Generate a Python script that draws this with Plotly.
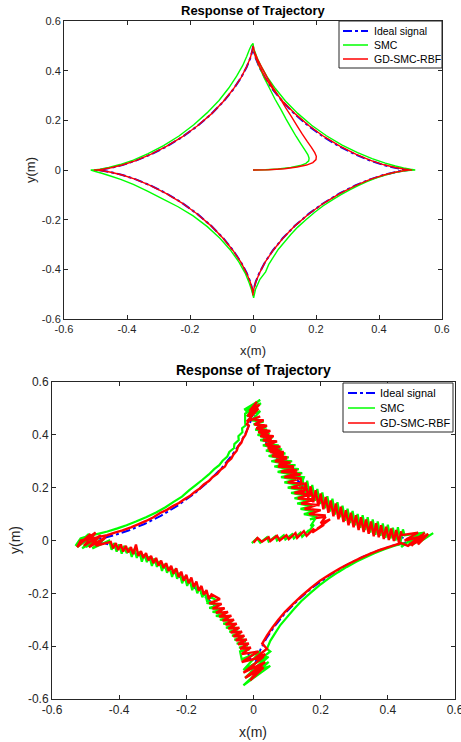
import plotly.graph_objects as go

# ---------------- data ----------------
# Ideal astroid trajectory (counter-clockwise from the top cusp)
IDEAL_X = [0, -0.0003, -0.0026, -0.0087, -0.02, -0.0377, -0.0625, -0.0944, -0.1328, -0.1768,
           -0.2248, -0.2748, -0.3248, -0.3722, -0.4149, -0.4506, -0.4776, -0.4943, -0.5,
           -0.4943, -0.4776, -0.4506, -0.4149, -0.3722, -0.3248, -0.2748, -0.2248, -0.1768,
           -0.1328, -0.0944, -0.0625, -0.0377, -0.02, -0.0087, -0.0026, -0.0003, 0,
           0.0003, 0.0026, 0.0087, 0.02, 0.0377, 0.0625, 0.0944, 0.1328, 0.1768,
           0.2248, 0.2748, 0.3248, 0.3722, 0.4149, 0.4506, 0.4776, 0.4943, 0.5,
           0.4943, 0.4776, 0.4506, 0.4149, 0.3722, 0.3248, 0.2748, 0.2248, 0.1768,
           0.1328, 0.0944, 0.0625, 0.0377, 0.02, 0.0087, 0.0026, 0.0003, 0]
IDEAL_Y = [0.5, 0.4943, 0.4776, 0.4506, 0.4149, 0.3722, 0.3248, 0.2748, 0.2248, 0.1768,
           0.1328, 0.0944, 0.0625, 0.0377, 0.02, 0.0087, 0.0026, 0.0003, 0,
           -0.0003, -0.0026, -0.0087, -0.02, -0.0377, -0.0625, -0.0944, -0.1328, -0.1768,
           -0.2248, -0.2748, -0.3248, -0.3722, -0.4149, -0.4506, -0.4776, -0.4943, -0.5,
           -0.4943, -0.4776, -0.4506, -0.4149, -0.3722, -0.3248, -0.2748, -0.2248, -0.1768,
           -0.1328, -0.0944, -0.0625, -0.0377, -0.02, -0.0087, -0.0026, -0.0003, 0,
           0.0003, 0.0026, 0.0087, 0.02, 0.0377, 0.0625, 0.0944, 0.1328, 0.1768,
           0.2248, 0.2748, 0.3248, 0.3722, 0.4149, 0.4506, 0.4776, 0.4943, 0.5]

# Upper chart: SMC response
TOP_SMC_X = [0, 0.04, 0.08, 0.12, 0.15, 0.168, 0.177, 0.178, 0.174, 0.165, 0.152, 0.137, 0.121,
             0.105, 0.088, 0.07, 0.052, 0.036, 0.022, 0.011, 0.004, 0,
             -0.006, -0.012, -0.02, -0.033, -0.052, -0.077, -0.108, -0.146, -0.188, -0.235,
             -0.284, -0.333, -0.38, -0.422, -0.458, -0.485, -0.505, -0.515,
             -0.5, -0.48, -0.455, -0.42, -0.38, -0.335, -0.287, -0.238, -0.19, -0.145, -0.105,
             -0.072, -0.045, -0.025, -0.012, -0.004, 0.002,
             0.008, 0.022, 0.04, 0.05, 0.065, 0.08, 0.1, 0.12, 0.142, 0.168, 0.196, 0.222, 0.252,
             0.278, 0.307, 0.334, 0.36, 0.39, 0.42, 0.45, 0.478, 0.5, 0.515,
             0.5, 0.478, 0.452, 0.42, 0.378, 0.332, 0.283, 0.233, 0.186, 0.142, 0.103, 0.071,
             0.045, 0.026, 0.013, 0.005]
TOP_SMC_Y = [0, 0.001, 0.004, 0.01, 0.018, 0.027, 0.037, 0.048, 0.062, 0.08, 0.105, 0.135, 0.17,
             0.205, 0.245, 0.285, 0.33, 0.37, 0.41, 0.445, 0.475, 0.51,
             0.5, 0.483, 0.457, 0.42, 0.378, 0.33, 0.28, 0.23, 0.182, 0.137,
             0.098, 0.066, 0.04, 0.022, 0.01, 0.003, 0.0005, 0,
             -0.006, -0.013, -0.023, -0.038, -0.058, -0.085, -0.116, -0.148, -0.185, -0.228, -0.275,
             -0.322, -0.37, -0.415, -0.455, -0.485, -0.515,
             -0.48, -0.44, -0.41, -0.38, -0.35, -0.32, -0.29, -0.26, -0.23, -0.2, -0.17, -0.145, -0.12,
             -0.1, -0.08, -0.063, -0.048, -0.033, -0.02, -0.01, -0.004, -0.001, 0,
             0.003, 0.008, 0.016, 0.028, 0.046, 0.07, 0.1, 0.138, 0.18, 0.228, 0.278, 0.328,
             0.375, 0.417, 0.452, 0.48]

# Upper chart: GD-SMC-RBF response
TOP_RBF_X = [0, 0.05, 0.1, 0.14, 0.17, 0.19, 0.2, 0.201, 0.196, 0.186, 0.172, 0.156, 0.139,
             0.122, 0.104, 0.085, 0.065, 0.046, 0.029, 0.015, 0.005, 0,
             -0.0005, -0.003, -0.009, -0.021, -0.038, -0.063, -0.095, -0.133, -0.177, -0.225,
             -0.275, -0.325, -0.372, -0.415, -0.451, -0.478, -0.495, -0.505,
             -0.495, -0.478, -0.451, -0.415, -0.372, -0.325, -0.275, -0.225, -0.177, -0.133,
             -0.095, -0.063, -0.038, -0.021, -0.009, -0.003, -0.0005, 0,
             0.0005, 0.003, 0.009, 0.021, 0.038, 0.063, 0.095, 0.133, 0.177, 0.225,
             0.275, 0.325, 0.372, 0.415, 0.451, 0.478, 0.495, 0.505,
             0.495, 0.478, 0.452, 0.416, 0.373, 0.326, 0.276, 0.226, 0.178, 0.134,
             0.095, 0.063, 0.038, 0.021, 0.009, 0.003]
TOP_RBF_Y = [0, 0.001, 0.005, 0.012, 0.02, 0.03, 0.042, 0.055, 0.07, 0.09, 0.115, 0.145, 0.18,
             0.215, 0.25, 0.29, 0.33, 0.37, 0.41, 0.445, 0.475, 0.5,
             0.494, 0.477, 0.45, 0.414, 0.372, 0.325, 0.275, 0.225, 0.177, 0.133,
             0.095, 0.063, 0.038, 0.02, 0.009, 0.003, 0.0005, 0,
             -0.0005, -0.003, -0.009, -0.02, -0.038, -0.063, -0.095, -0.133, -0.177, -0.225,
             -0.275, -0.325, -0.372, -0.414, -0.45, -0.477, -0.494, -0.505,
             -0.494, -0.477, -0.45, -0.414, -0.372, -0.325, -0.275, -0.225, -0.177, -0.133,
             -0.095, -0.063, -0.038, -0.02, -0.009, -0.003, -0.0005, 0,
             0.001, 0.004, 0.01, 0.021, 0.039, 0.064, 0.096, 0.134, 0.178, 0.226,
             0.276, 0.326, 0.373, 0.415, 0.451, 0.478]

# Lower chart: SMC response (noisy), as (x, y) points along the path
BOT_SMC_PTS = [
    # start and first hook
    (-0.005, -0.01), (0.01, 0.008), (0.02, -0.008), (0.04, 0.012), (0.045, -0.004), (0.065, 0.016),
    (0.07, 0.0), (0.09, 0.02), (0.095, 0.004), (0.115, 0.024), (0.12, 0.008), (0.14, 0.03),
    (0.145, 0.014), (0.165, 0.04), (0.162, 0.03), (0.18, 0.06), (0.17, 0.055), (0.185, 0.085),
    (0.168, 0.08),
    # climb towards the top cusp
    (0.19, 0.09), (0.15, 0.1), (0.182, 0.11), (0.14, 0.12), (0.175, 0.13), (0.13, 0.14),
    (0.165, 0.15), (0.122, 0.16), (0.156, 0.17), (0.112, 0.18), (0.146, 0.19), (0.102, 0.2),
    (0.136, 0.21), (0.092, 0.22), (0.126, 0.23), (0.082, 0.24), (0.116, 0.25), (0.072, 0.26),
    (0.106, 0.27), (0.062, 0.28), (0.097, 0.29), (0.053, 0.3), (0.088, 0.31), (0.045, 0.32),
    (0.079, 0.33), (0.037, 0.34), (0.07, 0.35), (0.028, 0.36), (0.062, 0.37), (0.02, 0.38),
    (0.054, 0.39), (0.012, 0.4), (0.046, 0.41), (0.005, 0.42), (0.038, 0.43), (0.0, 0.44),
    (0.03, 0.45), (-0.005, 0.455),
    # top cusp
    (0.02, 0.49), (-0.02, 0.47), (0.022, 0.52), (-0.025, 0.49), (0.02, 0.532), (-0.028, 0.495),
    (0.015, 0.51), (-0.025, 0.48),
    # upper-left arc
    (-0.025, 0.45), (-0.024, 0.435), (-0.034, 0.425), (-0.033, 0.41), (-0.045, 0.395),
    (-0.044, 0.38), (-0.057, 0.365), (-0.058, 0.35), (-0.072, 0.335), (-0.078, 0.318),
    (-0.092, 0.302), (-0.102, 0.285), (-0.117, 0.27), (-0.133, 0.25), (-0.152, 0.23),
    (-0.172, 0.21), (-0.192, 0.19), (-0.213, 0.166), (-0.238, 0.146), (-0.262, 0.126),
    (-0.29, 0.106), (-0.32, 0.088), (-0.35, 0.072), (-0.378, 0.058), (-0.405, 0.046),
    (-0.435, 0.034), (-0.46, 0.026), (-0.48, 0.02), (-0.5, 0.014), (-0.515, 0.008),
    # left cusp
    (-0.53, -0.02), (-0.49, 0.025), (-0.525, -0.025), (-0.475, 0.02), (-0.51, -0.03), (-0.46, 0.01),
    (-0.5, -0.025), (-0.445, 0.005), (-0.48, -0.03), (-0.43, 0.0),
    # lower-left arc
    (-0.4225, -0.035), (-0.415, -0.01), (-0.4075, -0.042), (-0.4, -0.015), (-0.3925, -0.05),
    (-0.385, -0.02), (-0.3775, -0.048), (-0.37, -0.028), (-0.3625, -0.062), (-0.355, -0.032),
    (-0.3475, -0.066), (-0.34, -0.042), (-0.3325, -0.08), (-0.325, -0.052), (-0.3175, -0.082),
    (-0.31, -0.06), (-0.3025, -0.096), (-0.295, -0.068), (-0.2875, -0.1), (-0.28, -0.078),
    (-0.2725, -0.115), (-0.265, -0.088), (-0.2575, -0.122), (-0.25, -0.1), (-0.2425, -0.138),
    (-0.235, -0.108), (-0.2275, -0.145), (-0.22, -0.122), (-0.2125, -0.162), (-0.205, -0.135),
    (-0.1975, -0.172), (-0.19, -0.148), (-0.1825, -0.188), (-0.175, -0.162), (-0.1675, -0.2),
    (-0.16, -0.178), (-0.1525, -0.215), (-0.145, -0.195), (-0.1375, -0.235), (-0.13, -0.212),
    (-0.108, -0.228), (-0.14, -0.236), (-0.102, -0.245), (-0.132, -0.255), (-0.093, -0.262),
    (-0.122, -0.27), (-0.083, -0.276), (-0.112, -0.285), (-0.073, -0.292), (-0.1, -0.3),
    (-0.063, -0.306), (-0.09, -0.315), (-0.055, -0.322), (-0.082, -0.33), (-0.046, -0.337),
    (-0.072, -0.345), (-0.038, -0.352), (-0.064, -0.36), (-0.03, -0.367), (-0.057, -0.375),
    (-0.023, -0.382), (-0.05, -0.39), (-0.017, -0.397), (-0.043, -0.405), (-0.012, -0.412),
    (-0.04, -0.42),
    # bottom cusp
    (-0.035, -0.45), (0.02, -0.42), (-0.03, -0.49), (0.04, -0.44), (-0.025, -0.52), (0.045, -0.46),
    (-0.03, -0.548), (0.05, -0.475), (-0.01, -0.5), (0.045, -0.44), (0.01, -0.46), (0.05, -0.42),
    # lower-right arc
    (0.04, -0.41), (0.05, -0.38), (0.065, -0.35), (0.08, -0.32), (0.1, -0.29), (0.12, -0.26),
    (0.142, -0.23), (0.168, -0.2), (0.196, -0.17), (0.222, -0.145), (0.252, -0.12), (0.278, -0.1),
    (0.307, -0.08), (0.334, -0.063), (0.36, -0.048), (0.39, -0.033), (0.42, -0.02), (0.45, -0.01),
    # right cusp
    (0.44, -0.025), (0.48, 0.015), (0.46, -0.02), (0.5, 0.02), (0.475, -0.015), (0.52, 0.025),
    (0.49, -0.01), (0.535, 0.028), (0.5, 0.0), (0.47, 0.01), (0.51, 0.03), (0.45, 0.02),
    # upper-right arc back to the top
    (0.445, 0.042), (0.438, -0.005), (0.43, 0.05), (0.423, 0.0), (0.415, 0.048), (0.408, 0.008),
    (0.4, 0.06), (0.393, 0.01), (0.385, 0.065), (0.378, 0.018), (0.37, 0.072), (0.363, 0.022),
    (0.355, 0.08), (0.348, 0.03), (0.34, 0.088), (0.333, 0.04), (0.325, 0.096), (0.318, 0.048),
    (0.31, 0.1), (0.303, 0.058), (0.295, 0.112), (0.288, 0.066), (0.28, 0.12), (0.273, 0.075),
    (0.265, 0.132), (0.258, 0.088), (0.25, 0.145), (0.243, 0.098), (0.235, 0.158), (0.228, 0.11),
    (0.22, 0.168), (0.213, 0.122), (0.205, 0.182), (0.198, 0.138), (0.19, 0.195), (0.183, 0.15),
    (0.175, 0.21), (0.168, 0.165), (0.16, 0.226), (0.153, 0.18), (0.145, 0.24), (0.138, 0.198),
    (0.15, 0.24), (0.11, 0.245), (0.145, 0.255), (0.1, 0.26), (0.135, 0.27), (0.09, 0.275),
    (0.125, 0.285), (0.082, 0.29), (0.115, 0.3), (0.072, 0.305), (0.105, 0.315), (0.062, 0.32),
    (0.095, 0.33), (0.055, 0.335), (0.085, 0.345), (0.047, 0.35), (0.075, 0.36), (0.038, 0.365),
    (0.066, 0.375), (0.03, 0.38), (0.057, 0.39), (0.022, 0.395), (0.048, 0.405), (0.016, 0.41),
    (0.04, 0.42), (0.01, 0.425), (0.032, 0.435), (0.005, 0.44), (0.022, 0.455), (0.0, 0.46),
]

# Lower chart: GD-SMC-RBF response (noisy)
BOT_RBF_PTS = [
    (0, -0.008), (0.012, 0.01), (0.025, -0.005), (0.045, 0.012), (0.05, -0.002), (0.07, 0.018),
    (0.078, 0.0), (0.098, 0.02), (0.105, 0.005), (0.125, 0.028), (0.13, 0.01), (0.15, 0.035),
    (0.158, 0.018), (0.18, 0.045), (0.175, 0.03), (0.21, 0.06), (0.19, 0.045), (0.228, 0.08),
    (0.2, 0.065), (0.215, 0.09), (0.185, 0.085),
    (0.215, 0.095), (0.165, 0.1), (0.2, 0.115), (0.152, 0.12), (0.19, 0.135), (0.142, 0.14),
    (0.18, 0.155), (0.132, 0.16), (0.17, 0.175), (0.122, 0.18), (0.16, 0.195), (0.112, 0.2),
    (0.15, 0.215), (0.102, 0.22), (0.14, 0.235), (0.092, 0.24), (0.13, 0.255), (0.082, 0.26),
    (0.12, 0.275), (0.073, 0.28), (0.11, 0.295), (0.064, 0.3), (0.1, 0.315), (0.055, 0.32),
    (0.09, 0.335), (0.046, 0.34), (0.08, 0.355), (0.038, 0.36), (0.07, 0.375), (0.03, 0.38),
    (0.06, 0.395), (0.022, 0.4), (0.05, 0.415), (0.015, 0.42), (0.04, 0.435), (0.008, 0.44),
    (0.03, 0.455), (0.0, 0.46),
    (0.02, 0.47), (-0.02, 0.45), (0.015, 0.5), (-0.015, 0.47), (0.018, 0.515), (-0.012, 0.49),
    (0.01, 0.525), (-0.018, 0.47), (0.008, 0.5), (-0.02, 0.44),
    (-0.014, 0.435), (-0.02, 0.415), (-0.024, 0.4), (-0.032, 0.385), (-0.036, 0.37),
    (-0.046, 0.355), (-0.05, 0.34), (-0.06, 0.325), (-0.066, 0.31), (-0.078, 0.297),
    (-0.085, 0.28), (-0.098, 0.268), (-0.108, 0.252), (-0.122, 0.24), (-0.133, 0.225),
    (-0.148, 0.212), (-0.16, 0.197), (-0.175, 0.184), (-0.19, 0.168), (-0.206, 0.156),
    (-0.222, 0.142), (-0.24, 0.13), (-0.258, 0.116), (-0.278, 0.104), (-0.298, 0.088),
    (-0.32, 0.074), (-0.342, 0.062), (-0.365, 0.05), (-0.39, 0.038), (-0.413, 0.03),
    (-0.436, 0.02), (-0.46, 0.014), (-0.48, 0.007), (-0.5, 0.004), (-0.515, 0.0),
    (-0.525, -0.025), (-0.485, 0.025), (-0.52, -0.015), (-0.47, 0.03), (-0.505, -0.02),
    (-0.455, 0.02), (-0.49, -0.025), (-0.44, 0.012), (-0.47, -0.02), (-0.425, -0.005),
    (-0.418, -0.03), (-0.41, -0.01), (-0.403, -0.036), (-0.395, -0.015), (-0.388, -0.042),
    (-0.38, -0.02), (-0.373, -0.045), (-0.365, -0.025), (-0.358, -0.052), (-0.35, -0.015),
    (-0.343, -0.058), (-0.335, -0.04), (-0.328, -0.066), (-0.32, -0.048), (-0.313, -0.075),
    (-0.305, -0.058), (-0.298, -0.086), (-0.29, -0.066), (-0.283, -0.095), (-0.275, -0.076),
    (-0.268, -0.104), (-0.26, -0.086), (-0.253, -0.115), (-0.245, -0.096), (-0.238, -0.126),
    (-0.23, -0.105), (-0.223, -0.138), (-0.215, -0.118), (-0.208, -0.152), (-0.2, -0.13),
    (-0.193, -0.162), (-0.185, -0.14), (-0.178, -0.176), (-0.17, -0.155), (-0.163, -0.19),
    (-0.155, -0.172), (-0.148, -0.205), (-0.14, -0.188), (-0.133, -0.222), (-0.125, -0.204),
    (-0.1, -0.222), (-0.132, -0.238), (-0.095, -0.24), (-0.122, -0.258), (-0.086, -0.256),
    (-0.112, -0.274), (-0.076, -0.27), (-0.102, -0.288), (-0.066, -0.285), (-0.092, -0.303),
    (-0.058, -0.3), (-0.083, -0.318), (-0.05, -0.315), (-0.075, -0.333), (-0.042, -0.33),
    (-0.068, -0.348), (-0.034, -0.345), (-0.06, -0.363), (-0.027, -0.36), (-0.053, -0.378),
    (-0.02, -0.375), (-0.046, -0.393), (-0.014, -0.39), (-0.04, -0.41), (-0.008, -0.405),
    (-0.035, -0.43),
    (0.015, -0.42), (-0.035, -0.46), (0.03, -0.44), (-0.03, -0.5), (0.035, -0.46), (-0.025, -0.52),
    (0.03, -0.48), (-0.01, -0.53), (0.025, -0.47), (-0.015, -0.49), (0.035, -0.43), (0.0, -0.45),
    (0.04, -0.41),
    (0.026, -0.39), (0.04, -0.36), (0.056, -0.33), (0.074, -0.3), (0.094, -0.27), (0.118, -0.24),
    (0.143, -0.21), (0.17, -0.18), (0.198, -0.152), (0.228, -0.128), (0.258, -0.105),
    (0.288, -0.085), (0.318, -0.067), (0.348, -0.05), (0.378, -0.035), (0.408, -0.022),
    (0.44, -0.01),
    (0.46, -0.02), (0.5, 0.02), (0.47, -0.02), (0.51, 0.03), (0.48, -0.01), (0.52, 0.025),
    (0.49, -0.015), (0.5, 0.015), (0.45, 0.0), (0.49, 0.03), (0.44, 0.02),
    (0.44, 0.035), (0.433, -0.008), (0.425, 0.04), (0.418, -0.002), (0.41, 0.045), (0.403, 0.002),
    (0.395, 0.052), (0.388, 0.006), (0.38, 0.058), (0.373, 0.012), (0.365, 0.065), (0.358, 0.016),
    (0.35, 0.072), (0.343, 0.025), (0.335, 0.08), (0.328, 0.032), (0.32, 0.088), (0.313, 0.04),
    (0.305, 0.096), (0.298, 0.05), (0.29, 0.105), (0.283, 0.058), (0.275, 0.115), (0.268, 0.07),
    (0.26, 0.128), (0.253, 0.08), (0.245, 0.14), (0.238, 0.092), (0.23, 0.152), (0.223, 0.105),
    (0.215, 0.165), (0.208, 0.118), (0.2, 0.178), (0.193, 0.13), (0.185, 0.19), (0.178, 0.145),
    (0.17, 0.205), (0.163, 0.16), (0.155, 0.22), (0.148, 0.175), (0.14, 0.235),
    (0.1, 0.24), (0.14, 0.25), (0.095, 0.26), (0.13, 0.265), (0.085, 0.275), (0.12, 0.28),
    (0.075, 0.29), (0.11, 0.295), (0.067, 0.305), (0.1, 0.31), (0.058, 0.32), (0.09, 0.325),
    (0.05, 0.335), (0.08, 0.34), (0.042, 0.35), (0.07, 0.355), (0.035, 0.365), (0.062, 0.37),
    (0.028, 0.38), (0.054, 0.385), (0.02, 0.395), (0.046, 0.4), (0.014, 0.41), (0.038, 0.415),
    (0.008, 0.425), (0.03, 0.43), (0.003, 0.44), (0.02, 0.45), (0.0, 0.46),
]

SERIES_NAMES = ["Ideal signal", "SMC", "GD-SMC-RBF"]
SERIES_COLORS = ["#0000FF", "#00FF00", "#FF0000"]
SERIES_DASH = ["dashdot", "solid", "solid"]
TICK_VALS = [-0.6, -0.4, -0.2, 0, 0.2, 0.4, 0.6]
TICK_TEXT = ["-0.6", "-0.4", "-0.2", "0", "0.2", "0.4", "0.6"]
TITLE_TEXT = "Response of Trajectory"
X_LABEL = "x(m)"
Y_LABEL = "y(m)"

# ---------------- figure ----------------
W, H = 461, 742
FONT = "Arial, 'Liberation Sans', Helvetica, sans-serif"
INK = "#262626"


def fx(p):  # pixel column -> paper fraction
    return p / W


def fy(p):  # pixel row (from top) -> paper fraction
    return 1 - p / H


fig = go.Figure()

panels = [
    dict(xa="x", ya="y", lw=[2, 1.4, 1.4],
         data=[(IDEAL_X, IDEAL_Y), (TOP_SMC_X, TOP_SMC_Y), (TOP_RBF_X, TOP_RBF_Y)]),
    dict(xa="x2", ya="y2", lw=[2, 2.2, 2.4],
         data=[(IDEAL_X, IDEAL_Y),
               ([p[0] for p in BOT_SMC_PTS], [p[1] for p in BOT_SMC_PTS]),
               ([p[0] for p in BOT_RBF_PTS], [p[1] for p in BOT_RBF_PTS])]),
]
for p in panels:
    for i, (xs, ys) in enumerate(p["data"]):
        fig.add_trace(go.Scatter(
            x=xs, y=ys, mode="lines", name=SERIES_NAMES[i], showlegend=False,
            xaxis=p["xa"], yaxis=p["ya"],
            line=dict(color=SERIES_COLORS[i], width=p["lw"][i], dash=SERIES_DASH[i],
                      simplify=False),
            hoverinfo="skip"))


def ax(domain, anchor, size):
    return dict(domain=domain, anchor=anchor, range=[-0.6, 0.6], tickvals=TICK_VALS,
                ticktext=TICK_TEXT, ticks="inside", ticklen=4, tickwidth=1, tickcolor=INK,
                showline=True, linecolor=INK, linewidth=1, mirror="ticks", showgrid=False,
                zeroline=False, automargin=False, ticklabeloverflow="allow",
                tickfont=dict(size=size, color=INK, family=FONT),
                fixedrange=True)


shapes, annotations = [], []

# Legend boxes drawn as in the reference (compact MATLAB style)
legend_specs = [
    dict(box=(339, 21, 442, 68), rows=[31, 45, 59], line=(343, 368), text_x=372, fsize=10.5),
    dict(box=(343, 383, 453, 432), rows=[393, 408, 423], line=(348, 375), text_x=378, fsize=11),
]
for spec in legend_specs:
    x0, y0, x1, y1 = spec["box"]
    shapes.append(dict(type="rect", xref="paper", yref="paper", x0=fx(x0), x1=fx(x1),
                       y0=fy(y1), y1=fy(y0), line=dict(color=INK, width=1),
                       fillcolor="white", layer="above"))
    for i, row in enumerate(spec["rows"]):
        shapes.append(dict(type="line", xref="paper", yref="paper",
                           x0=fx(spec["line"][0]), x1=fx(spec["line"][1]),
                           y0=fy(row), y1=fy(row), layer="above",
                           line=dict(color=SERIES_COLORS[i], dash=SERIES_DASH[i],
                                     width=2 if i == 0 else 1.5)))
        annotations.append(dict(text=SERIES_NAMES[i], x=fx(spec["text_x"]), y=fy(row),
                                xref="paper", yref="paper", showarrow=False,
                                xanchor="left", yanchor="middle",
                                font=dict(size=spec["fsize"], color="black", family=FONT)))

# Titles and axis labels
for (tx, ty, fs) in [(253, 10, 13), (253, 370, 14)]:
    annotations.append(dict(text="<b>" + TITLE_TEXT + "</b>", x=fx(tx), y=fy(ty),
                            xref="paper", yref="paper", showarrow=False,
                            xanchor="center", yanchor="middle",
                            font=dict(size=fs, color="black", family=FONT)))
for (tx, ty, fs) in [(253, 350, 13), (253, 732, 14)]:
    annotations.append(dict(text=X_LABEL, x=fx(tx), y=fy(ty), xref="paper", yref="paper",
                            showarrow=False, xanchor="center", yanchor="middle",
                            font=dict(size=fs, color=INK, family=FONT)))
for (tx, ty, fs) in [(30, 170, 13), (15, 540, 14)]:
    annotations.append(dict(text=Y_LABEL, x=fx(tx), y=fy(ty), xref="paper", yref="paper",
                            showarrow=False, xanchor="center", yanchor="middle", textangle=-90,
                            font=dict(size=fs, color=INK, family=FONT)))

fig.update_layout(
    width=W, height=H, autosize=False,
    margin=dict(l=0, r=0, t=0, b=0, autoexpand=False),
    paper_bgcolor="white", plot_bgcolor="white",
    font=dict(family=FONT, color=INK),
    xaxis=ax([fx(64), fx(442)], "y", 11),
    yaxis=ax([fy(319), fy(21)], "x", 11),
    xaxis2=ax([fx(52), fx(455)], "y2", 12),
    yaxis2=ax([fy(699), fy(382)], "x2", 12),
    showlegend=False,
    shapes=shapes,
    annotations=annotations,
)

fig.write_html(
    "out.html",
    config={"displayModeBar": False},
    post_script="document.body.style.margin='0';document.body.style.overflow='hidden';",
)
